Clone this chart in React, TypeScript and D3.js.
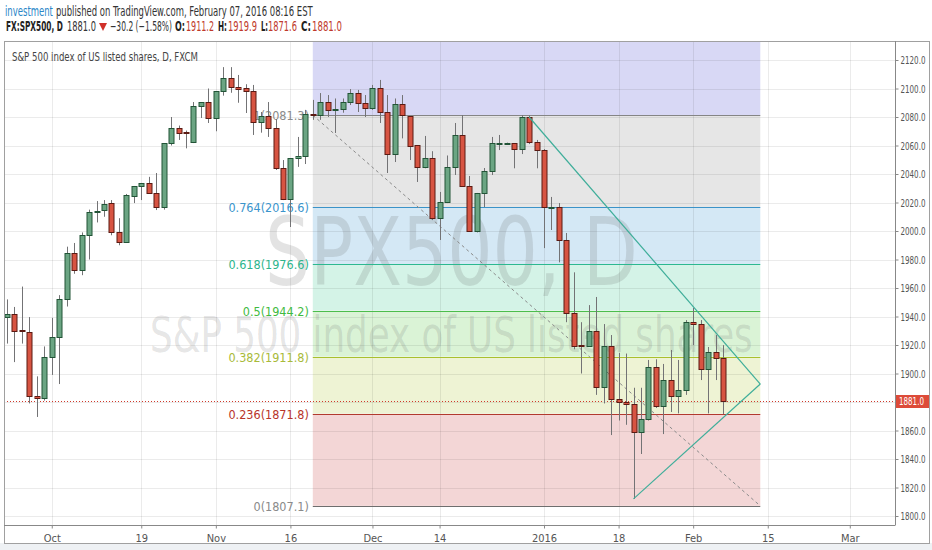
import React, { useEffect, useRef } from 'react';
import * as d3 from 'd3';

// daily candles, [open, high, low, close], first one is Sep 23 2015, last Feb 05 2016
const candles: [number, number, number, number][] = [
  [1940, 1952, 1921, 1941.5], [1941.7, 1946.7, 1908, 1930], [1930.8, 1961, 1921, 1929.8], [1929, 1939.6, 1879, 1884],
  [1884.5, 1898, 1869.5, 1883], [1883, 1919, 1881, 1911.6], [1911.6, 1939, 1899, 1925.6], [1925.6, 1955, 1892.6, 1952],
  [1952, 1989, 1947, 1984.6], [1984.6, 1991.6, 1970, 1972.6], [1972.6, 1999, 1969, 1997], [1997, 2015, 1980, 2013],
  [2013, 2021, 2006, 2014], [2014.6, 2021.7, 2010, 2019], [2019.6, 2021.7, 1997, 1999], [1999, 2009, 1990, 1992],
  [1992, 2026, 1992, 2025], [2024.6, 2031.6, 2019.6, 2031.6], [2031.6, 2033.7, 2021.7, 2033.7], [2033.7, 2038, 2026, 2026.7],
  [2026.7, 2040.7, 2014.7, 2016.8], [2016.8, 2061.7, 2015, 2061.7], [2061.7, 2080, 2060, 2072.3], [2072.3, 2074, 2063.9, 2068.8],
  [2069.8, 2070.5, 2058, 2069.3], [2062.5, 2090.5, 2061.7, 2087.7], [2087.7, 2090.5, 2079.3, 2090.5], [2090.5, 2100, 2075.8, 2079.3],
  [2079.3, 2098.2, 2070, 2098.2], [2098.2, 2115, 2095, 2107.4], [2107.4, 2115, 2097, 2101], [2101, 2109.5, 2090, 2099.6],
  [2100.3, 2103, 2082.8, 2098.2], [2098.2, 2102.5, 2067.4, 2076.5], [2076.5, 2083.5, 2069, 2080.8], [2080.7, 2090.5, 2066, 2072.3],
  [2072.3, 2078.6, 2042.8, 2044], [2044, 2049.8, 2021.7, 2022.5], [2022.5, 2051.2, 2002.8, 2051.2], [2051.2, 2066, 2045, 2052.6],
  [2052.6, 2085, 2047, 2082], [2082, 2092, 2078, 2081.3], [2081.4, 2096.8, 2078, 2090.5], [2090.5, 2095.4, 2080, 2085],
  [2085, 2093, 2068.8, 2085.6], [2085.6, 2093, 2083, 2090.5], [2090.5, 2099.6, 2088.4, 2096.8], [2096.8, 2099, 2083.5, 2089.8],
  [2089.8, 2095.4, 2080, 2086.3], [2086.3, 2102.5, 2085, 2100.4], [2100.4, 2106, 2075.8, 2083.5], [2083.5, 2095.4, 2040.7, 2054],
  [2054, 2093, 2048.4, 2089], [2089, 2095.4, 2065, 2081.4], [2080.7, 2080.7, 2049.8, 2060], [2060.3, 2060.3, 2034.4, 2044.9],
  [2044.9, 2066.7, 2044, 2051.2], [2051.2, 2056, 2007.7, 2009.1], [2009.1, 2027.4, 1993.7, 2020.4], [2020.4, 2053, 2019.6, 2044.9],
  [2044.9, 2075.8, 2039.3, 2067.4], [2067.4, 2081.4, 2030.9, 2031.6], [2031.6, 2038.6, 1999.3, 2000], [2000, 2026.7, 1999, 2026.7],
  [2026.7, 2044.2, 2016.8, 2042], [2042.1, 2066, 2039.3, 2061.7], [2061.7, 2067.4, 2056.8, 2062], [2061.7, 2062, 2061.5, 2061.7],
  [2061.7, 2061.7, 2044, 2057.5], [2057.5, 2081.4, 2054, 2080], [2080, 2081, 2061, 2062.5], [2062.5, 2063.9, 2044, 2056.8],
  [2056.8, 2057.5, 1988, 2016.8], [2016.8, 2023.9, 2000.7, 2016.8], [2016.8, 2019.6, 1978, 1993.7], [1993.7, 1998.6, 1936, 1942.5],
  [1942.5, 1971, 1917, 1919.3], [1920, 1936, 1900, 1919.3], [1919.3, 1948, 1918.6, 1929.8], [1929.8, 1953.7, 1885, 1890.5],
  [1890.5, 1934.7, 1879, 1919.3], [1919.3, 1927, 1856.8, 1882], [1882, 1914.4, 1867, 1880], [1880, 1914, 1864, 1878.6],
  [1878.6, 1890, 1812, 1859], [1859, 1890, 1843.5, 1868], [1868, 1909.5, 1867, 1904.6], [1904.6, 1910, 1875.8, 1877],
  [1877, 1906.7, 1857.5, 1895.4], [1895.4, 1916.5, 1873, 1884], [1884, 1909.5, 1872, 1888.4], [1888.4, 1937.5, 1885, 1936],
  [1936, 1946, 1920, 1934.7], [1934.7, 1937.5, 1895.4, 1903], [1903, 1918.6, 1872, 1915], [1915, 1927, 1895.4, 1911.2],
  [1911.2, 1919.9, 1871.6, 1881.0],
];

const timeTickIndex = [6, 18, 28, 38, 49, 58, 72, 82, 92, 102, 113];
const timeTickLabels = ['Oct', '19', 'Nov', '16', 'Dec', '14', '2016', '18', 'Feb', '15', 'Mar'];
const priceTicks = d3.range(1800, 2121, 20);

// fibonacci retracement drawn from the Nov high down to the Jan low
const fibStart = 41;
const fibEnd = 101;
const fibHigh = 2081.3;
const fibLow = 1807.1;
const fibLevels = [0, 0.236, 0.382, 0.5, 0.618, 0.764, 1];
const fibLineColors = ['#6e6e6e', '#b23a2f', '#a9c02e', '#4cbd4c', '#2db890', '#3b93c8', '#858585'];
const fibLabelColors = ['#8a8a8a', '#b8342a', '#a8ba3a', '#3fbb3f', '#2db58c', '#3a94cc', '#8a8a8a'];
const fibBandTops = [0.236, 0.382, 0.5, 0.618, 0.764, 1, 1.618];
const fibBandColors = ['#f3d6d6', '#eef3d4', '#daf3d6', '#d4f3e7', '#d4e8f5', '#e6e6e6', '#d8d8f5'];

// triangle drawn over the last weeks
const triangleUpper: [number, number][] = [[70, 2080], [101, 1892.6]];
const triangleLower: [number, number][] = [[84, 1812], [101, 1892.6]];

const lastPrice = 1881.0;

const NARROW = "'Liberation Sans Narrow', 'Arial Narrow', 'DejaVu Sans Condensed', sans-serif";
const W = 932;
const H = 550;
const plot = { left: 4, top: 41, right: 895, bottom: 525 };

const x = d3.scaleLinear().domain([0, 96]).range([7, 723]);
const y = d3.scaleLinear().domain([1800, 2120]).range([516, 60]);

const fibPrice = (lvl: number) => fibLow + (fibHigh - fibLow) * lvl;
const fmt = d3.format('.1f');

// squeeze a text horizontally to the width given in data-w (the fonts here are wider than the original one)
function fitTexts(root: SVGSVGElement) {
  d3.select(root).selectAll<SVGTextElement, unknown>('text[data-w]').each(function () {
    const target = +(this.getAttribute('data-w') || 0);
    const natural = this.getComputedTextLength();
    if (!target || !natural) return;
    const s = target / natural;
    const ax = +(this.getAttribute('x') || 0);
    this.setAttribute('transform', `translate(${ax},0) scale(${s},1) translate(${-ax},0)`);
  });
}

const App: React.FC = () => {
  const svgRef = useRef<SVGSVGElement>(null);
  const yAxisRef = useRef<SVGGElement>(null);
  const xAxisRef = useRef<SVGGElement>(null);

  useEffect(() => {
    if (!svgRef.current || !yAxisRef.current || !xAxisRef.current) return;
    const gy = d3.select(yAxisRef.current);
    gy.call(d3.axisRight(y).tickValues(priceTicks).tickFormat(d => fmt(d as number)).tickSize(3).tickPadding(2));
    gy.select('.domain').remove();
    gy.selectAll('.tick line').attr('stroke', '#888');
    gy.selectAll('.tick text')
      .attr('fill', '#555')
      .attr('font-family', NARROW)
      .attr('font-size', 11)
      .attr('data-w', 25);

    const gx = d3.select(xAxisRef.current);
    gx.call(
      d3.axisBottom(x)
        .tickValues(timeTickIndex)
        .tickFormat((d, i) => timeTickLabels[i])
        .tickSize(3)
        .tickPadding(6)
    );
    gx.select('.domain').remove();
    gx.selectAll('.tick line').attr('stroke', '#888');
    gx.selectAll('.tick text').attr('fill', '#555').attr('font-family', NARROW).attr('font-size', 11);

    fitTexts(svgRef.current);
  }, []);

  const yMax = (v: number) => Math.max(plot.top, y(v));
  const x0 = x(fibStart);
  const x1 = x(fibEnd);
  const lastY = Math.round(y(lastPrice));

  return (
    <svg ref={svgRef} width={W} height={H} style={{ position: 'absolute', left: 0, top: 0, background: '#fff' }}>
      <defs>
        <clipPath id="plotClip">
          <rect x={plot.left} y={plot.top} width={plot.right - plot.left} height={plot.bottom - plot.top} />
        </clipPath>
      </defs>
      <rect x={0} y={0} width={W} height={H} fill="#fff" />
      <rect x={0} y={543} width={W} height={7} fill="#eef1f4" />

      {/* header */}
      <g fontFamily={NARROW} fontSize={13.5}>
        <text x={5} y={16} fill="#2a86c8" data-w={48}>investment</text>
        <text x={56} y={16} fill="#333" data-w={257}>
          published on TradingView.com, February 07, 2016 08:16 EST
        </text>
        <text x={6} y={31} fill="#222" fontWeight="bold" data-w={57}>FX:SPX500, D</text>
        <text x={67} y={31} fill="#333" data-w={29}>1881.0</text>
        <path d="M99,23 L107,23 L103,31 Z" fill="#d0302a" />
        <text x={110} y={31} fill="#333" data-w={62}>−30.2 (−1.58%)</text>
        <text x={175} y={31} fill="#222" fontWeight="bold" data-w={10}>O:</text>
        <text x={186} y={31} fill="#c0392b" data-w={28}>1911.2</text>
        <text x={218} y={31} fill="#222" fontWeight="bold" data-w={9}>H:</text>
        <text x={228} y={31} fill="#c0392b" data-w={29}>1919.9</text>
        <text x={261} y={31} fill="#222" fontWeight="bold" data-w={7}>L:</text>
        <text x={268} y={31} fill="#c0392b" data-w={29}>1871.6</text>
        <text x={301} y={31} fill="#222" fontWeight="bold" data-w={10}>C:</text>
        <text x={312} y={31} fill="#c0392b" data-w={30}>1881.0</text>
      </g>

      <g clipPath="url(#plotClip)">
        {/* fib background bands */}
        {fibBandTops.map((top, k) => {
          const yt = yMax(fibPrice(top));
          const yb = y(fibPrice(fibLevels[k]));
          return <rect key={k} x={x0} y={yt} width={x1 - x0} height={yb - yt} fill={fibBandColors[k]} />;
        })}

        {/* grid */}
        {priceTicks.map(v => (
          <line key={v} x1={plot.left} x2={plot.right} y1={Math.round(y(v)) + 0.5} y2={Math.round(y(v)) + 0.5}
            stroke="#000" strokeOpacity={0.08} />
        ))}
        {timeTickIndex.map(i => (
          <line key={i} x1={Math.round(x(i)) + 0.5} x2={Math.round(x(i)) + 0.5} y1={plot.top} y2={plot.bottom}
            stroke="#000" strokeOpacity={0.08} />
        ))}

        {/* watermark */}
        <g fill="#666" fillOpacity={0.18} fontFamily={NARROW}>
          <text x={265} y={285} fontSize={95} data-w={373}>SPX500, D</text>
          <text x={150} y={352} fontSize={49} data-w={603}>
            S&amp;P 500 index of US listed shares
          </text>
        </g>

        {/* fib lines and labels */}
        {fibLevels.map((lvl, k) => {
          const py = Math.round(y(fibPrice(lvl))) + 0.5;
          return (
            <g key={lvl}>
              <line x1={x0} x2={x1} y1={py} y2={py} stroke={fibLineColors[k]} strokeWidth={1} />
              <text x={x0 - 4} y={py} dy="0.35em" textAnchor="end" fontFamily={NARROW} fontSize={12.5}
                fill={fibLabelColors[k]}>
                {`${lvl}(${fmt(fibPrice(lvl))})`}
              </text>
            </g>
          );
        })}
        <line x1={x0} y1={y(fibHigh)} x2={x1} y2={y(fibLow)} stroke="#8a8a8a" strokeDasharray="3,3" />

        {/* last price line */}
        <line x1={plot.left} x2={plot.right} y1={lastY + 0.5} y2={lastY + 0.5} stroke="#d0392b" strokeDasharray="1,2" />

        {/* candles */}
        {candles.map(([o, h, l, c], i) => {
          const cx = Math.round(x(i)) + 0.5;
          const up = c >= o;
          const top = Math.round(y(Math.max(o, c))) + 0.5;
          const bot = Math.round(y(Math.min(o, c))) + 0.5;
          return (
            <g key={i}>
              <line x1={cx} x2={cx} y1={y(h)} y2={y(l)} stroke="#737375" />
              <rect x={cx - 2.5} y={top} width={5} height={Math.max(1, bot - top)}
                fill={up ? '#6ba583' : '#d75442'} stroke={up ? '#225437' : '#5b1a13'} strokeWidth={1} />
            </g>
          );
        })}

        {/* triangle */}
        {[triangleUpper, triangleLower].map((seg, k) => (
          <line key={k} x1={x(seg[0][0])} y1={y(seg[0][1])} x2={x(seg[1][0])} y2={y(seg[1][1])}
            stroke="#3fae9a" strokeWidth={1.2} />
        ))}
      </g>

      {/* chart legend */}
      <text x={12} y={61} fontFamily={NARROW} fontSize={12} fill="#444" data-w={186}>
        S&amp;P 500 index of US listed shares, D, FXCM
      </text>

      {/* frame and axes */}
      <rect x={plot.left + 0.5} y={plot.top + 0.5} width={929 - plot.left} height={543 - plot.top} fill="none" stroke="#a0a0a0" />
      <line x1={plot.right + 0.5} x2={plot.right + 0.5} y1={plot.top} y2={plot.bottom} stroke="#888" />
      <line x1={plot.left} x2={plot.right + 0.5} y1={plot.bottom + 0.5} y2={plot.bottom + 0.5} stroke="#888" />
      <g ref={yAxisRef} transform={`translate(${plot.right + 0.5},0)`} />
      <g ref={xAxisRef} transform={`translate(0,${plot.bottom + 0.5})`} />

      {/* last price marker */}
      <rect x={plot.right + 1} y={lastY - 6} width={33} height={13} fill="#dd4b39" />
      <text x={plot.right + 4} y={lastY + 0.5} dy="0.35em" fill="#fff" fontFamily={NARROW} fontSize={11} data-w={25}>
        {fmt(lastPrice)}
      </text>
    </svg>
  );
};

export default App;
